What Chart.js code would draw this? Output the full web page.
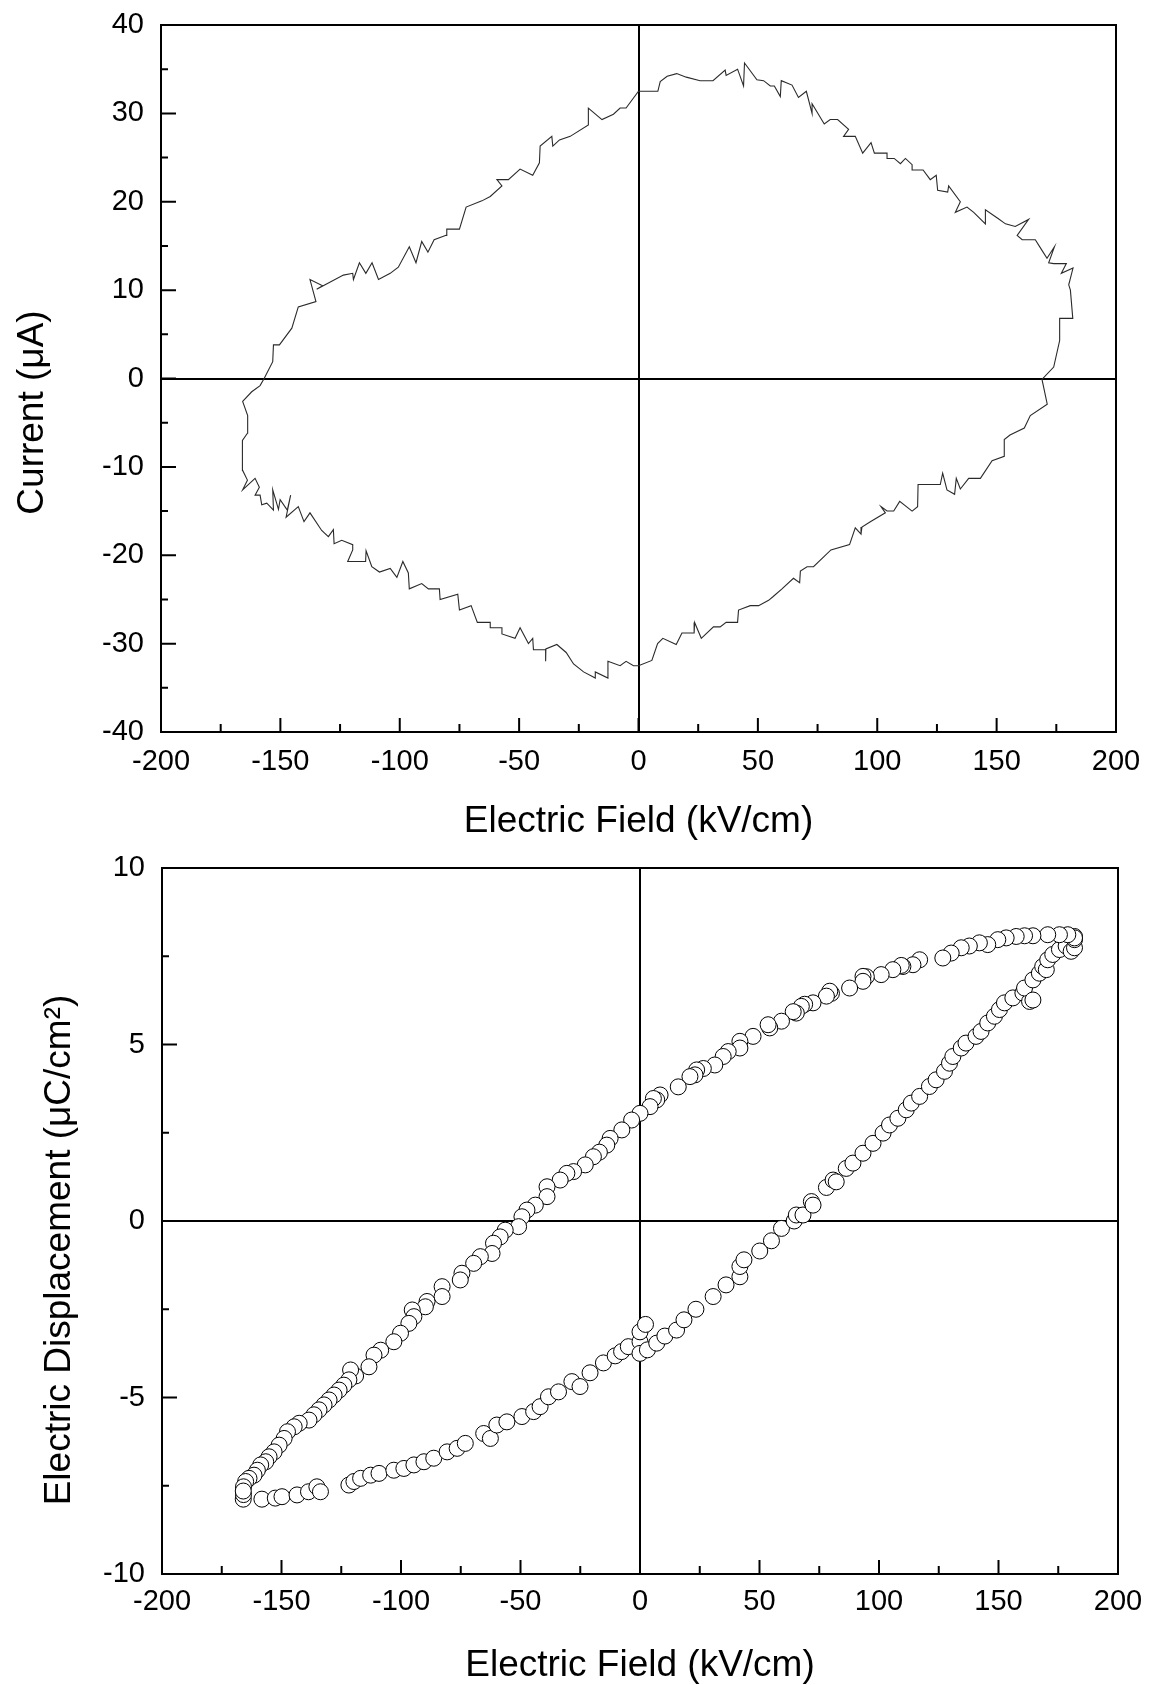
<!DOCTYPE html>
<html><head><meta charset="utf-8">
<script src="https://cdn.jsdelivr.net/npm/chart.js@4.4.1/dist/chart.umd.min.js"></script>
<style>
html,body{margin:0;padding:0;background:#fff;}
#wrap{position:relative;width:1150px;height:1685px;background:#fff;}
canvas{position:absolute;left:0;}
#c1{top:0;width:1150px;height:850px;}
#c2{top:850px;width:1150px;height:835px;}
</style></head><body>
<div id="wrap"><canvas id="c1" width="1150" height="850"></canvas><canvas id="c2" width="1150" height="835"></canvas></div>
<script>
// ---------- Data: current loop (top) ----------
const fieldIV = [-156.8,-153.2,-152.9,-150.4,-145.2,-142.5,-135.1,-137.6,-132.3,-134.8,-123.6,-119.7,-119.4,-116.9,-114.2,-111.6,-108.9,-104.0,-100.6,-96.0,-93.2,-90.8,-88.2,-85.6,-80.6,-80.3,-75.0,-72.2,-65.6,-62.1,-57.2,-59.3,-54.5,-49.6,-44.3,-41.5,-41.2,-36.3,-35.9,-33.1,-28.6,-21.0,-21.0,-15.3,-10.5,-7.7,-5.2,0,2.8,8.1,9.1,12,16,20,25.8,31.2,36.3,36.7,41.5,44.0,44.4,49.6,52.4,55.2,56.9,59.4,59.8,64.3,67.0,70.3,72.7,72.7,77.8,80.3,83.4,88.0,85.9,90.8,93.9,97.4,98.8,104.1,104.1,107.1,109.7,111.8,114.6,114.6,119.2,122.2,124.7,125.3,129.5,129.9,134.8,132.7,137.6,140.4,145.3,145.3,150.6,153.7,157.8,163.4,158.6,160.7,166.2,169.0,171.1,174.2,171.8,173.9,179.2,177.1,182.0,180.2,180.9,181.9,176.4,176.4,173.9,169.0,171.2,164.1,161.6,155.6,153.2,153.2,148.1,143.2,138.3,134.8,133.1,132.4,129.2,127.4,126.4,117.1,116.9,114.6,109.4,106.9,104.1,101.6,103.4,97.1,93.6,93.2,90.8,88.4,80.6,73.3,70.6,67.8,67.5,64.9,60.1,56.3,54.5,50.3,46.8,41.9,41.5,36.7,34.2,31.4,26.3,23.5,23.3,18.2,15.8,10.2,8.0,5.6,0,-2.1,-5.2,-7.7,-12.8,-12.8,-18.1,-18.1,-23.0,-27.2,-30.3,-34.2,-38.8,-38.8,-39.0,-44.0,-44.3,-46.1,-49.6,-51.7,-57.2,-57.2,-62.1,-62.1,-67.5,-70.1,-75.0,-75.7,-83.1,-83.4,-88.0,-90.8,-96.0,-96.4,-98.7,-101.2,-104.0,-108.5,-111.7,-114.1,-114.3,-121.8,-119.7,-119.7,-124.3,-127.5,-127.8,-129.9,-132.7,-137.6,-140.1,-142.5,-147.6,-145.7,-147.1,-150.1,-150.8,-153.2,-152.9,-155.7,-157.8,-158.5,-160.6,-158.8,-160.6,-165.8,-163.8,-165.8,-165.9,-163.8,-163.7,-165.8,-162.0,-158.5,-156.8];
const current = [0,1.9,3.8,3.8,5.7,8.1,8.7,11.2,10.5,10.1,11.7,11.9,11.2,13.1,11.9,13.1,11.2,11.9,12.6,14.9,13.1,15.5,14.3,15.7,16.2,16.9,16.9,19.4,20.1,20.6,21.8,22.5,22.5,23.7,23.0,24.4,26.3,27.4,26.3,27.0,27.4,28.7,30.6,29.3,29.9,30.6,30.6,32.5,32.5,32.5,33.6,34.2,34.5,34.1,33.7,33.7,34.9,34.3,35.0,33.1,35.7,33.8,33.7,33.1,33.1,31.9,33.7,33.2,31.8,32.5,30.0,31.1,28.8,29.3,29.3,28.2,27.4,27.4,25.5,26.7,25.5,25.5,24.9,24.9,24.3,24.9,24.2,23.6,23.6,22.5,23.0,21.3,21.1,21.8,20.0,18.8,19.4,18.8,17.5,19.1,18.1,17.5,17.2,18.0,16.2,15.7,15.7,14.5,13.6,14.9,13.1,13.0,13.0,11.9,12.5,10.6,10.0,6.8,6.8,4.3,1.3,-0.1,-2.9,-4.2,-5.6,-6.4,-6.9,-8.8,-9.3,-11.3,-11.3,-12.5,-11.3,-13.1,-12.6,-10.7,-12.0,-12.0,-14.5,-15.0,-13.9,-15.0,-15.0,-14.5,-15.2,-16.2,-16.8,-17.6,-16.9,-18.8,-19.4,-21.3,-21.3,-21.8,-23.1,-22.6,-23.8,-24.7,-25.1,-25.7,-25.7,-26.2,-27.6,-27.6,-28.1,-28.1,-29.4,-27.6,-28.8,-28.8,-30.1,-29.4,-30.0,-31.9,-32.5,-32.5,-32.0,-32.5,-32.0,-33.9,-33.2,-33.9,-33.2,-32.3,-31.0,-30.1,-30.6,-32.0,-30.7,-30.7,-29.4,-30.0,-28.2,-29.4,-28.9,-28.2,-28.2,-27.6,-27.6,-25.7,-26.2,-24.4,-25.0,-23.8,-23.8,-23.2,-23.8,-22.0,-20.7,-22.5,-21.5,-21.9,-21.3,-19.5,-20.7,-20.7,-19.4,-18.8,-18.3,-18.7,-17.1,-17.9,-17.2,-15.2,-16.2,-14.5,-15.7,-13.2,-14.9,-13.7,-14.8,-12.6,-14.9,-14.1,-14.3,-13.2,-13.2,-12.3,-11.3,-12.6,-11.5,-10.4,-7.0,-6.2,-4.2,-2.6,-1.5,-0.8,0];

// ---------- Data: displacement loop (bottom) ----------
const fieldDE = [-166.0,-165.9,-158.2,-152.6,-149.8,-143.5,-138.7,-135.2,-133.7,-121.8,-119.7,-116.9,-112.7,-109.2,-103.0,-98.8,-94.6,-90.4,-86.3,-80.7,-76.5,-73.1,-65.4,-62.6,-59.9,-55.7,-49.4,-44.5,-41.8,-38.3,-34.1,-28.5,-25.1,-20.9,-15.3,-10.4,-7.7,-4.9,0,0,0,2.3,3.1,7.0,10.4,15.3,18.4,23.4,30.6,36.0,41.8,41.8,43.5,50.1,55.0,59.2,64.5,65.4,68.2,71.7,72.4,78.0,80.8,82.1,86.3,89.1,93.3,97.5,101.7,104.4,107.9,111.4,113.5,117.0,121.1,123.9,127.4,129.5,130.9,134.4,136.4,140.6,142.7,145.5,148.3,150.4,152.5,156.0,160.2,163.0,160.9,164.4,164.4,167.1,168.5,170.0,170.6,172.7,175.5,178.3,180.4,181.8,181.8,
181.8,181.8,179.0,175.5,170.6,164.4,160.9,157.4,153.2,149.7,145.5,142.0,137.8,134.4,130.2,126.7,117.0,114.2,110.0,109.3,105.8,100.9,94.7,93.3,93.3,87.7,80.1,79.4,78.0,72.4,68.9,67.5,65.4,64.1,59.2,54.3,53.6,47.3,41.8,41.8,36.9,34.8,31.3,26.5,23.7,23.0,20.9,16.0,8.4,7.0,5.6,4.2,0,-3.5,-7.6,-12.5,-13.9,-17.0,-19.5,-22.9,-27.8,-30.6,-33.4,-38.9,-38.9,-43.8,-47.3,-49.4,-50.8,-56.4,-58.5,-61.3,-61.9,-66.8,-69.6,-74.5,-75.2,-82.8,-82.8,-89.1,-89.8,-95.3,-94.6,-96.7,-100.2,-103.0,-108.5,-111.3,-113.4,-119.0,-121.1,-121.8,-123.9,-125.9,-128.0,-130.1,-132.2,-134.3,-136.4,-138.5,-142.6,-144.7,-147.5,-148.9,-151.0,-153.1,-155.2,-156.6,-158.7,-160.1,-161.5,-163.6,-165.0,-165.9,-166.0];
const displacement = [-7.88,-7.75,-7.88,-7.85,-7.81,-7.76,-7.67,-7.53,-7.67,-7.48,-7.38,-7.29,-7.20,-7.15,-7.06,-7.01,-6.91,-6.82,-6.72,-6.54,-6.44,-6.30,-6.02,-6.16,-5.78,-5.69,-5.54,-5.40,-5.26,-4.98,-4.84,-4.55,-4.69,-4.30,-4.02,-3.82,-3.70,-3.56,-3.42,-3.75,-3.14,-2.93,-3.65,-3.46,-3.26,-3.09,-2.80,-2.50,-2.14,-1.81,-1.58,-1.29,-1.10,-0.85,-0.56,-0.21,0.0,0.17,0.17,0.55,0.45,0.95,1.16,1.11,1.49,1.64,1.92,2.20,2.49,2.72,2.91,3.15,3.34,3.53,3.81,4.00,4.24,4.47,4.66,4.90,5.04,5.23,5.37,5.61,5.80,5.99,6.18,6.32,6.46,6.22,6.60,6.26,6.83,7.02,7.21,7.12,7.40,7.55,7.69,7.79,7.64,7.74,7.97,
8.06,8.02,8.11,8.11,8.11,8.08,8.08,8.06,8.02,7.97,7.83,7.88,7.79,7.74,7.59,7.45,7.40,7.26,7.21,7.24,7.12,6.98,6.92,6.93,6.79,6.60,6.45,6.51,6.37,6.18,6.14,6.08,5.89,5.93,5.66,5.47,5.56,5.23,5.09,4.90,4.80,4.66,4.42,4.32,4.28,4.14,4.09,3.80,3.57,3.43,3.47,3.24,3.05,2.86,2.58,2.34,2.15,1.95,1.82,1.59,1.40,1.35,1.16,0.97,0.69,0.45,0.31,0.12,-0.16,-0.26,-0.45,-0.63,-0.92,-1.01,-1.20,-1.48,-1.67,-1.86,-2.14,-2.28,-2.43,-2.52,-2.71,-2.90,-3.18,-3.42,-3.66,-3.80,-4.13,-4.39,-4.22,-4.50,-4.65,-4.79,-4.93,-5.07,-5.21,-5.35,-5.49,-5.64,-5.73,-5.83,-5.97,-6.16,-6.35,-6.54,-6.68,-6.82,-6.91,-7.06,-7.20,-7.29,-7.38,-7.53,-7.65];

// ---------- Tick labels ----------
const fieldTicks = [-200,-150,-100,-50,0,50,100,150,200];
const currentTicks = [-40,-30,-20,-10,0,10,20,30,40];
const dispTicks = [-10,-5,0,5,10];

const xTitle = 'Electric Field (kV/cm)';
const yTitleTop = 'Current (\u03bcA)';
const yTitleBottom = 'Electric Displacement (\u03bcC/cm\u00b2)';

const FONT = '"Liberation Sans", Arial, Helvetica, sans-serif';
Chart.defaults.font.family = FONT;
Chart.defaults.color = '#000';

const framePlugin = {
  id: 'frameTicks',
  afterDraw(chart, args, o) {
    const {ctx, chartArea: a, scales} = chart;
    const xs = scales.x, ys = scales.y;
    ctx.save();
    ctx.strokeStyle = '#000';
    ctx.lineWidth = 2;
    ctx.strokeRect(a.left, a.top, a.right - a.left, a.bottom - a.top);
    ctx.beginPath();
    const xv = xs.ticks.map(t => t.value);
    xv.forEach((v, i) => {
      const p = xs.getPixelForValue(v);
      ctx.moveTo(p, a.bottom); ctx.lineTo(p, a.bottom - o.xMajor);
      if (i < xv.length - 1) {
        const m = xs.getPixelForValue((v + xv[i + 1]) / 2);
        ctx.moveTo(m, a.bottom); ctx.lineTo(m, a.bottom - o.xMinor);
      }
    });
    const yv = ys.ticks.map(t => t.value);
    yv.forEach((v, i) => {
      const p = ys.getPixelForValue(v);
      ctx.moveTo(a.left, p); ctx.lineTo(a.left + o.yMajor, p);
      if (i < yv.length - 1) {
        const m = ys.getPixelForValue((v + yv[i + 1]) / 2);
        ctx.moveTo(a.left, m); ctx.lineTo(a.left + o.yMinor, m);
      }
    });
    ctx.stroke();
    // y-axis title
    ctx.translate(o.titleX, (a.top + a.bottom) / 2 + o.titleShift);
    ctx.rotate(-Math.PI / 2);
    ctx.font = '37px ' + FONT;
    ctx.fillStyle = '#000';
    ctx.textAlign = 'center';
    ctx.textBaseline = 'middle';
    ctx.fillText(o.text, 0, 0);
    ctx.restore();
  }
};

function zeroColor(c) { return (c.tick && c.tick.value === 0) ? '#000' : 'rgba(0,0,0,0)'; }
function noPad(s) { s.paddingTop = 0; s.paddingBottom = 0; s.paddingLeft = 0; s.paddingRight = 0; }

function makeOptions(cfg) {
  return {
    responsive: false,
    animation: false,
    devicePixelRatio: 1,
    layout: { autoPadding: false, padding: { top: cfg.padTop, right: cfg.padRight, left: 0, bottom: 0 } },
    plugins: {
      legend: { display: false },
      tooltip: { enabled: false },
      frameTicks: cfg.frame
    },
    scales: {
      x: {
        type: 'linear', min: -200, max: 200,
        afterBuildTicks: s => { s.ticks = fieldTicks.map(v => ({ value: v })); },
        afterFit: s => { s.height = cfg.xHeight; noPad(s); },
        ticks: { autoSkip: false, maxRotation: 0, padding: cfg.xTickPad, color: '#000',
                 font: { size: 29, lineHeight: 1.2 } },
        grid: { drawTicks: false, color: zeroColor, lineWidth: 2 },
        border: { display: false },
        title: { display: true, text: xTitle, color: '#000',
                 font: { size: 37, lineHeight: cfg.xTitleLH }, padding: { top: 0, bottom: cfg.xTitlePad } }
      },
      y: {
        type: 'linear', min: cfg.yMin, max: cfg.yMax,
        afterBuildTicks: s => { s.ticks = cfg.yTicks.map(v => ({ value: v })); },
        afterFit: s => { s.width = cfg.yWidth; noPad(s); },
        ticks: { autoSkip: false, padding: 17, color: '#000', font: { size: 29, lineHeight: 1.2 } },
        grid: { drawTicks: false, color: zeroColor, lineWidth: 2 },
        border: { display: false }
      }
    }
  };
}

new Chart(document.getElementById('c1'), {
  type: 'scatter',
  data: { datasets: [{
    data: fieldIV.map((x, i) => ({ x: x, y: current[i] })),
    showLine: true, borderColor: '#2a2a2a', borderWidth: 1.1, pointRadius: 0, tension: 0, fill: false
  }] },
  options: makeOptions({
    padTop: 25, padRight: 34, xHeight: 118, yWidth: 161, xTickPad: 13, xTitlePad: 6, xTitleLH: 1.2,
    yMin: -40, yMax: 40, yTicks: currentTicks,
    frame: { xMajor: 14, xMinor: 8, yMajor: 15, yMinor: 7, titleX: 33, titleShift: 34, text: yTitleTop }
  }),
  plugins: [framePlugin]
});

new Chart(document.getElementById('c2'), {
  type: 'scatter',
  data: { datasets: [{
    data: fieldDE.map((x, i) => ({ x: x, y: displacement[i] })),
    pointRadius: 8, pointBorderWidth: 1, pointBorderColor: '#000', pointBackgroundColor: '#fff',
    pointStyle: 'circle'
  }] },
  options: makeOptions({
    padTop: 18, padRight: 32, xHeight: 111, yWidth: 162, xTickPad: 11, xTitlePad: 1, xTitleLH: 1.0,
    yMin: -10, yMax: 10, yTicks: dispTicks,
    frame: { xMajor: 14, xMinor: 8, yMajor: 15, yMinor: 7, titleX: 60, titleShift: 29, text: yTitleBottom }
  }),
  plugins: [framePlugin]
});
</script>
</body></html>
